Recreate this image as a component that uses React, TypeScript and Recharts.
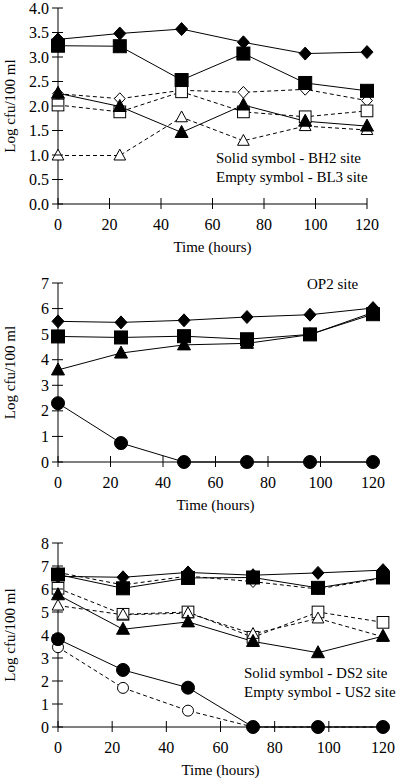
import React from 'react';
import { LineChart, Line, XAxis, YAxis, Label, Customized } from 'recharts';

const FONT = '"Liberation Serif", "Times New Roman", serif';

const hours = [0, 24, 48, 72, 96, 120];
const xTicks = [0, 20, 40, 60, 80, 100, 120];

// Panel 1: solid = BH2 site, empty = BL3 site
const bh2Diamond = [3.36, 3.48, 3.57, 3.3, 3.07, 3.1];
const bh2Square = [3.23, 3.22, 2.53, 3.07, 2.47, 2.31];
const bh2Triangle = [2.26, 1.99, 1.46, 2.02, 1.69, 1.59];
const bl3Diamond = [2.25, 2.15, 2.32, 2.28, 2.34, 2.11];
const bl3Square = [2.02, 1.88, 2.29, 1.88, 1.78, 1.9];
const bl3Triangle = [0.99, 0.99, 1.77, 1.29, 1.59, 1.51];
const yTicks1 = [0, 0.5, 1, 1.5, 2, 2.5, 3, 3.5, 4];
const notes1 = ['Solid symbol - BH2 site', 'Empty symbol - BL3 site'];

// Panel 2: OP2 site
const op2Diamond = [5.5, 5.46, 5.54, 5.67, 5.76, 6.02];
const op2Square = [4.91, 4.87, 4.92, 4.8, 4.99, 5.78];
const op2Triangle = [3.6, 4.26, 4.58, 4.64, 4.98, 5.85];
const op2Circle = [2.3, 0.74, 0, 0, 0, 0];
const yTicks2 = [0, 1, 2, 3, 4, 5, 6, 7];
const notes2 = ['OP2 site'];

// Panel 3: solid = DS2 site, empty = US2 site
const ds2Diamond = [6.55, 6.51, 6.72, 6.6, 6.7, 6.82];
const ds2Square = [6.63, 6.03, 6.48, 6.5, 6.05, 6.5];
const ds2Triangle = [5.75, 4.25, 4.57, 3.72, 3.23, 3.95];
const ds2Circle = [3.82, 2.48, 1.71, 0, 0, 0];
const us2Diamond = [6.72, 6.18, 6.56, 6.32, 6.0, 6.48];
const us2Square = [6.03, 4.9, 5.0, 3.9, 5.0, 4.55];
const us2Triangle = [5.28, 4.88, 4.95, 4.05, 4.72, 3.92];
const us2Circle = [3.47, 1.7, 0.71, 0, 0, 0];
const yTicks3 = [0, 1, 2, 3, 4, 5, 6, 7, 8];
const notes3 = ['Solid symbol - DS2 site', 'Empty symbol - US2 site'];

type Shape = 'diamond' | 'square' | 'triangle' | 'circle';
type Series = { key: string; values: number[]; shape: Shape; filled: boolean };

const series1: Series[] = [
  { key: 'bl3Diamond', values: bl3Diamond, shape: 'diamond', filled: false },
  { key: 'bl3Square', values: bl3Square, shape: 'square', filled: false },
  { key: 'bl3Triangle', values: bl3Triangle, shape: 'triangle', filled: false },
  { key: 'bh2Diamond', values: bh2Diamond, shape: 'diamond', filled: true },
  { key: 'bh2Square', values: bh2Square, shape: 'square', filled: true },
  { key: 'bh2Triangle', values: bh2Triangle, shape: 'triangle', filled: true },
];
const series2: Series[] = [
  { key: 'op2Diamond', values: op2Diamond, shape: 'diamond', filled: true },
  { key: 'op2Triangle', values: op2Triangle, shape: 'triangle', filled: true },
  { key: 'op2Square', values: op2Square, shape: 'square', filled: true },
  { key: 'op2Circle', values: op2Circle, shape: 'circle', filled: true },
];
const series3: Series[] = [
  { key: 'us2Diamond', values: us2Diamond, shape: 'diamond', filled: false },
  { key: 'us2Square', values: us2Square, shape: 'square', filled: false },
  { key: 'us2Triangle', values: us2Triangle, shape: 'triangle', filled: false },
  { key: 'us2Circle', values: us2Circle, shape: 'circle', filled: false },
  { key: 'ds2Diamond', values: ds2Diamond, shape: 'diamond', filled: true },
  { key: 'ds2Square', values: ds2Square, shape: 'square', filled: true },
  { key: 'ds2Triangle', values: ds2Triangle, shape: 'triangle', filled: true },
  { key: 'ds2Circle', values: ds2Circle, shape: 'circle', filled: true },
];

function buildRows(series: Series[]) {
  return hours.map((t, i) => {
    const row: Record<string, number> = { t };
    series.forEach((s) => {
      row[s.key] = s.values[i];
    });
    return row;
  });
}

function Marker({ cx, cy, shape, filled }: { cx?: number; cy?: number; shape: Shape; filled: boolean }) {
  if (cx == null || cy == null || isNaN(cx) || isNaN(cy)) return null;
  const common = { fill: filled ? '#000' : '#fff', stroke: '#000', strokeWidth: 1 };
  const k = filled ? 1 : 0.9;
  switch (shape) {
    case 'diamond':
      return (
        <polygon
          points={`${cx},${cy - 6.5 * k} ${cx + 6 * k},${cy} ${cx},${cy + 6.5 * k} ${cx - 6 * k},${cy}`}
          {...common}
        />
      );
    case 'square':
      return <rect x={cx - 6.5 * k} y={cy - 6.5 * k} width={13 * k} height={13 * k} {...common} />;
    case 'triangle':
      return (
        <polygon
          points={`${cx},${cy - 7 * k} ${cx + 6.5 * k},${cy + 5 * k} ${cx - 6.5 * k},${cy + 5 * k}`}
          {...common}
        />
      );
    default:
      return <circle cx={cx} cy={cy} r={filled ? 6.5 : 5.5} {...common} />;
  }
}

const XTick = (props: any) => {
  const { x, y, payload } = props;
  return (
    <g>
      <line x1={x} x2={x} y1={y - 6} y2={y + 5} stroke="#000" strokeWidth={1} />
      <text x={x} y={y + 20} textAnchor="middle" dominantBaseline="central" style={{ fontFamily: FONT }} fontSize={16} fill="#000">
        {payload.value}
      </text>
    </g>
  );
};

const makeYTick = (decimals: number) => (props: any) => {
  const { x, y, payload } = props;
  return (
    <g>
      <line x1={x - 6} x2={x + 5} y1={y} y2={y} stroke="#000" strokeWidth={1} />
      <text x={x - 9} y={y} textAnchor="end" dominantBaseline="central" style={{ fontFamily: FONT }} fontSize={16} fill="#000">
        {Number(payload.value).toFixed(decimals)}
      </text>
    </g>
  );
};

const XTitle = (props: any) => {
  const vb = props.viewBox || {};
  return (
    <text
      x={vb.x + vb.width / 2}
      y={vb.y + 43}
      textAnchor="middle"
      dominantBaseline="central"
      style={{ fontFamily: FONT }}
      fontSize={15}
      fill="#000"
    >
      Time (hours)
    </text>
  );
};

const YTitle = (props: any) => {
  const vb = props.viewBox || {};
  const x = vb.x + 10;
  const y = vb.y + vb.height / 2;
  return (
    <text
      x={x}
      y={y}
      transform={`rotate(-90, ${x}, ${y})`}
      textAnchor="middle"
      dominantBaseline="central"
      style={{ fontFamily: FONT }}
      fontSize={15}
      fill="#000"
    >
      Log cfu/100 ml
    </text>
  );
};

type PanelProps = {
  top: number;
  plotHeight: number;
  right: number;
  yMax: number;
  yTicks: number[];
  decimals: number;
  series: Series[];
  notes: string[];
  noteX: number;
  noteY: number;
};

function Panel({ top, plotHeight, right, yMax, yTicks, decimals, series, notes, noteX, noteY }: PanelProps) {
  const data = buildRows(series);
  const marginTop = 8;
  const marginBottom = 14;
  const xAxisH = 46;
  const height = marginTop + plotHeight + xAxisH + marginBottom;
  const Notes = () => (
    <g>
      {notes.map((n, i) => (
        <text
          key={n}
          x={noteX}
          y={noteY + i * 18.5}
          dominantBaseline="central"
          style={{ fontFamily: FONT }}
          fontSize={15}
          fill="#000"
        >
          {n}
        </text>
      ))}
    </g>
  );
  return (
    <div style={{ position: 'absolute', left: 0, top }}>
      <LineChart width={400} height={height} data={data} margin={{ top: marginTop, right, bottom: marginBottom, left: 0 }}>
        <XAxis
          dataKey="t"
          type="number"
          domain={[0, 120]}
          ticks={xTicks}
          interval={0}
          tickLine={false}
          tickSize={0}
          tickMargin={0}
          tick={XTick}
          height={xAxisH}
          axisLine={{ stroke: '#000', strokeWidth: 1 }}
        >
          <Label content={XTitle} />
        </XAxis>
        <YAxis
          type="number"
          domain={[0, yMax]}
          ticks={yTicks}
          interval={0}
          tickLine={false}
          tickSize={0}
          tickMargin={0}
          tick={makeYTick(decimals)}
          width={58}
          axisLine={{ stroke: '#000', strokeWidth: 1 }}
        >
          <Label content={YTitle} />
        </YAxis>
        {series.map((s) => (
          <Line
            key={s.key}
            dataKey={s.key}
            type="linear"
            stroke="#000"
            strokeWidth={1}
            strokeDasharray={s.filled ? undefined : '4 3'}
            isAnimationActive={false}
            activeDot={false}
            dot={(p: any) => (
              <Marker key={`${s.key}-${p.index}`} cx={p.cx} cy={p.cy} shape={s.shape} filled={s.filled} />
            )}
          />
        ))}
        <Customized component={Notes} />
      </LineChart>
    </div>
  );
}

export default function App() {
  return (
    <div style={{ position: 'absolute', left: 0, top: 0, width: 400, height: 780, background: '#fff', overflow: 'hidden' }}>
      <Panel
        top={0}
        plotHeight={196}
        right={33}
        yMax={4}
        yTicks={yTicks1}
        decimals={1}
        series={series1}
        notes={notes1}
        noteX={216}
        noteY={158}
      />
      <Panel
        top={275}
        plotHeight={179}
        right={27}
        yMax={7}
        yTicks={yTicks2}
        decimals={0}
        series={series2}
        notes={notes2}
        noteX={307}
        noteY={9}
      />
      <Panel
        top={535}
        plotHeight={184}
        right={17}
        yMax={8}
        yTicks={yTicks3}
        decimals={0}
        series={series3}
        notes={notes3}
        noteX={244}
        noteY={138}
      />
    </div>
  );
}
